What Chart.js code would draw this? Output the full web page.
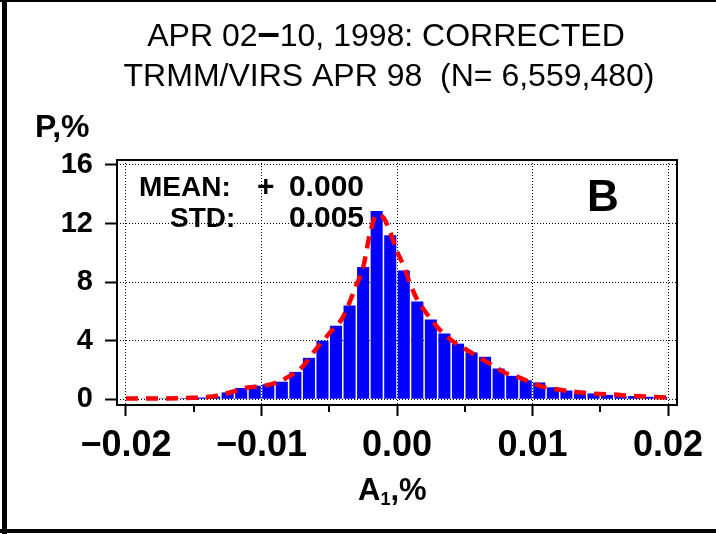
<!DOCTYPE html>
<html><head><meta charset="utf-8">
<script src="https://cdn.jsdelivr.net/npm/chart.js@4"></script>
<style>html,body{margin:0;padding:0;background:#fff}canvas{display:block}</style>
</head><body>
<canvas id="c" width="716" height="534"></canvas>
<script>
// ---- data ----
const titleParts = ["APR 02", "\u2013", "10, 1998: CORRECTED"];
const titleLine2 = "TRMM/VIRS APR 98  (N= 6,559,480)";
const yAxisLabel = "P,%";
const panelLetter = "B";
const statNames = ["MEAN:", "STD:"];
const statSigns = ["+", ""];
const statValues = ["0.000", "0.005"];
const binCenters = [-0.0195,-0.0185,-0.0175,-0.0165,-0.0155,-0.0145,-0.0135,-0.0125,-0.0115,-0.0105,
  -0.0095,-0.0085,-0.0075,-0.0065,-0.0055,-0.0045,-0.0035,-0.0025,-0.0015,-0.0005,
  0.0005,0.0015,0.0025,0.0035,0.0045,0.0055,0.0065,0.0075,0.0085,0.0095,
  0.0105,0.0115,0.0125,0.0135,0.0145,0.0155,0.0165,0.0175,0.0185,0.0195];
const binFreq = [0.05,0.05,0.06,0.07,0.08,0.12,0.2,0.47,0.77,0.93,
  1.02,1.2,1.87,2.83,4.0,5.03,6.4,9.03,12.85,11.2,
  8.8,6.67,5.45,4.5,3.8,3.2,2.9,2.1,1.6,1.3,
  1.15,0.82,0.6,0.45,0.4,0.3,0.25,0.22,0.17,0.15];
const fitX = [-0.020,-0.019,-0.018,-0.017,-0.016,-0.015,-0.014,-0.013,-0.012,-0.011,-0.010,-0.009,-0.008,-0.007,-0.006,-0.005,-0.004,-0.003,
  -0.0025,-0.002,-0.0015,-0.001,-0.0005,0,0.0005,0.001,0.0015,0.002,
  0.003,0.004,0.005,0.006,0.007,0.008,0.009,0.010,0.011,0.012,0.013,0.014,0.015,0.016,0.017,0.018,0.019,0.020];
const fitY = [0.05,0.05,0.06,0.06,0.07,0.1,0.15,0.3,0.55,0.8,0.9,1.1,1.55,2.2,3.4,4.5,5.6,7.8,
  9.0,11.3,12.6,12.4,11.4,10.1,9.1,7.8,6.8,6.1,
  4.9,4.05,3.45,2.9,2.35,1.8,1.5,1.1,0.8,0.65,0.52,0.42,0.36,0.32,0.26,0.2,0.16,0.12];
const xMajorTicks = [-0.02,-0.01,0,0.01,0.02];
const xTickLabels = ["\u22120.02","\u22120.01","0.00","0.01","0.02"];
const xMinorTicks = [-0.015,-0.005,0.005,0.015];
const yTicks = [0,4,8,12,16];
const yTickLabels = ["0","4","8","12","16"];

const FONT = '"Liberation Sans", Arial, Helvetica, sans-serif';

const decor = {
  id: 'decor',
  beforeDraw(chart) {
    const ctx = chart.ctx;
    ctx.save();
    ctx.fillStyle = '#fff';
    ctx.fillRect(0, 0, chart.width, chart.height);
    ctx.restore();
  },
  afterDraw(chart) {
    const {ctx, chartArea: a, scales: {x}} = chart;
    ctx.save();
    // plot frame
    ctx.strokeStyle = '#000';
    ctx.lineWidth = 2;
    ctx.setLineDash([]);
    ctx.strokeRect(a.left, a.top, a.right - a.left, a.bottom - a.top);
    // minor x ticks
    xMinorTicks.forEach(v => {
      const px = Math.round(x.getPixelForValue(v));
      ctx.beginPath(); ctx.moveTo(px, a.bottom); ctx.lineTo(px, a.bottom + 7); ctx.stroke();
    });
    // outer picture border
    ctx.fillStyle = '#000';
    ctx.fillRect(2, 0, 5, 534);
    ctx.fillRect(0, 0, 716, 2);
    ctx.fillRect(0, 529, 716, 4);
    // title line 1 (with a heavy dash)
    ctx.textBaseline = 'alphabetic';
    ctx.textAlign = 'left';
    const fonts = ['32px ' + FONT, 'bold 40px ' + FONT, '32px ' + FONT];
    let widths = titleParts.map((t, i) => { ctx.font = fonts[i]; return ctx.measureText(t).width; });
    let tx = 386 - widths.reduce((s, w) => s + w, 0) / 2;
    titleParts.forEach((t, i) => { ctx.font = fonts[i]; ctx.fillText(t, tx, 46); tx += widths[i]; });
    ctx.textAlign = 'center';
    ctx.font = '32px ' + FONT;
    ctx.fillText(titleLine2, 389, 86);
    // y axis label
    ctx.textAlign = 'left';
    ctx.font = 'bold 32px ' + FONT;
    ctx.fillText(yAxisLabel, 35, 137);
    // stats
    ctx.font = 'bold 28px ' + FONT;
    ctx.fillText(statNames[0], 139, 196);
    ctx.fillText(statNames[1], 170, 227);
    ctx.font = 'bold 30px ' + FONT;
    ctx.fillText(statSigns[0], 257, 196);
    ctx.textAlign = 'right';
    ctx.fillText(statValues[0], 364, 196);
    ctx.fillText(statValues[1], 364, 227);
    // panel letter
    ctx.textAlign = 'center';
    ctx.font = 'bold 44px ' + FONT;
    ctx.fillText(panelLetter, 603, 211);
    // x axis title A1,%
    ctx.textAlign = 'left';
    ctx.font = 'bold 31px ' + FONT;
    let xx = 358, by = 500;
    ctx.fillText('A', xx, by); xx += ctx.measureText('A').width;
    ctx.font = 'bold 18px ' + FONT;
    ctx.fillText('1', xx, by + 5); xx += ctx.measureText('1').width;
    ctx.font = 'bold 31px ' + FONT;
    ctx.fillText(',%', xx, by);
    ctx.restore();
  }
};

new Chart(document.getElementById('c'), {
  type: 'bar',
  data: {
    datasets: [
      {
        type: 'line',
        data: fitX.map((v, i) => ({x: v, y: fitY[i]})),
        borderColor: '#ff0000',
        borderWidth: 4.5,
        borderDash: [12, 8],
        pointRadius: 0,
        cubicInterpolationMode: 'monotone',
        fill: false,
        order: 0
      },
      {
        type: 'bar',
        data: binCenters.map((v, i) => ({x: v, y: binFreq[i]})),
        backgroundColor: '#0000ff',
        borderWidth: 0,
        barPercentage: 0.89,
        categoryPercentage: 1.0,
        order: 1
      }
    ]
  },
  options: {
    responsive: false,
    animation: false,
    devicePixelRatio: 1,
    layout: {padding: {left: 0, right: 39, top: 160, bottom: 0}},
    plugins: {legend: {display: false}, title: {display: false}, tooltip: {enabled: false}},
    scales: {
      x: {
        type: 'linear',
        offset: false,
        min: -0.020664,
        max: 0.020664,
        afterBuildTicks: s => { s.ticks = xMajorTicks.map(v => ({value: v})); },
        afterFit: s => { s.height = 129; },
        grid: {offset: false, color: '#000', lineWidth: 1, drawTicks: true, tickLength: 11,
               tickColor: '#000', tickWidth: 2, tickBorderDash: []},
        border: {display: false, dash: [1, 2]},
        ticks: {
          autoSkip: false, maxRotation: 0, minRotation: 0, padding: 8, color: '#000',
          font: {family: FONT, size: 36, weight: 'bold'},
          callback: v => xTickLabels[xMajorTicks.indexOf(v)]
        }
      },
      y: {
        type: 'linear',
        min: -0.39,
        max: 16.34,
        afterBuildTicks: s => { s.ticks = yTicks.map(v => ({value: v})); },
        afterFit: s => { s.width = 117; },
        grid: {color: '#000', lineWidth: 1, drawTicks: true, tickLength: 12,
               tickColor: '#000', tickWidth: 2, tickBorderDash: []},
        border: {display: false, dash: [1, 2]},
        ticks: {
          padding: 12, color: '#000',
          font: {family: FONT, size: 29, weight: 'bold'},
          callback: v => yTickLabels[yTicks.indexOf(v)]
        }
      }
    }
  },
  plugins: [decor]
});
</script>
</body></html>
